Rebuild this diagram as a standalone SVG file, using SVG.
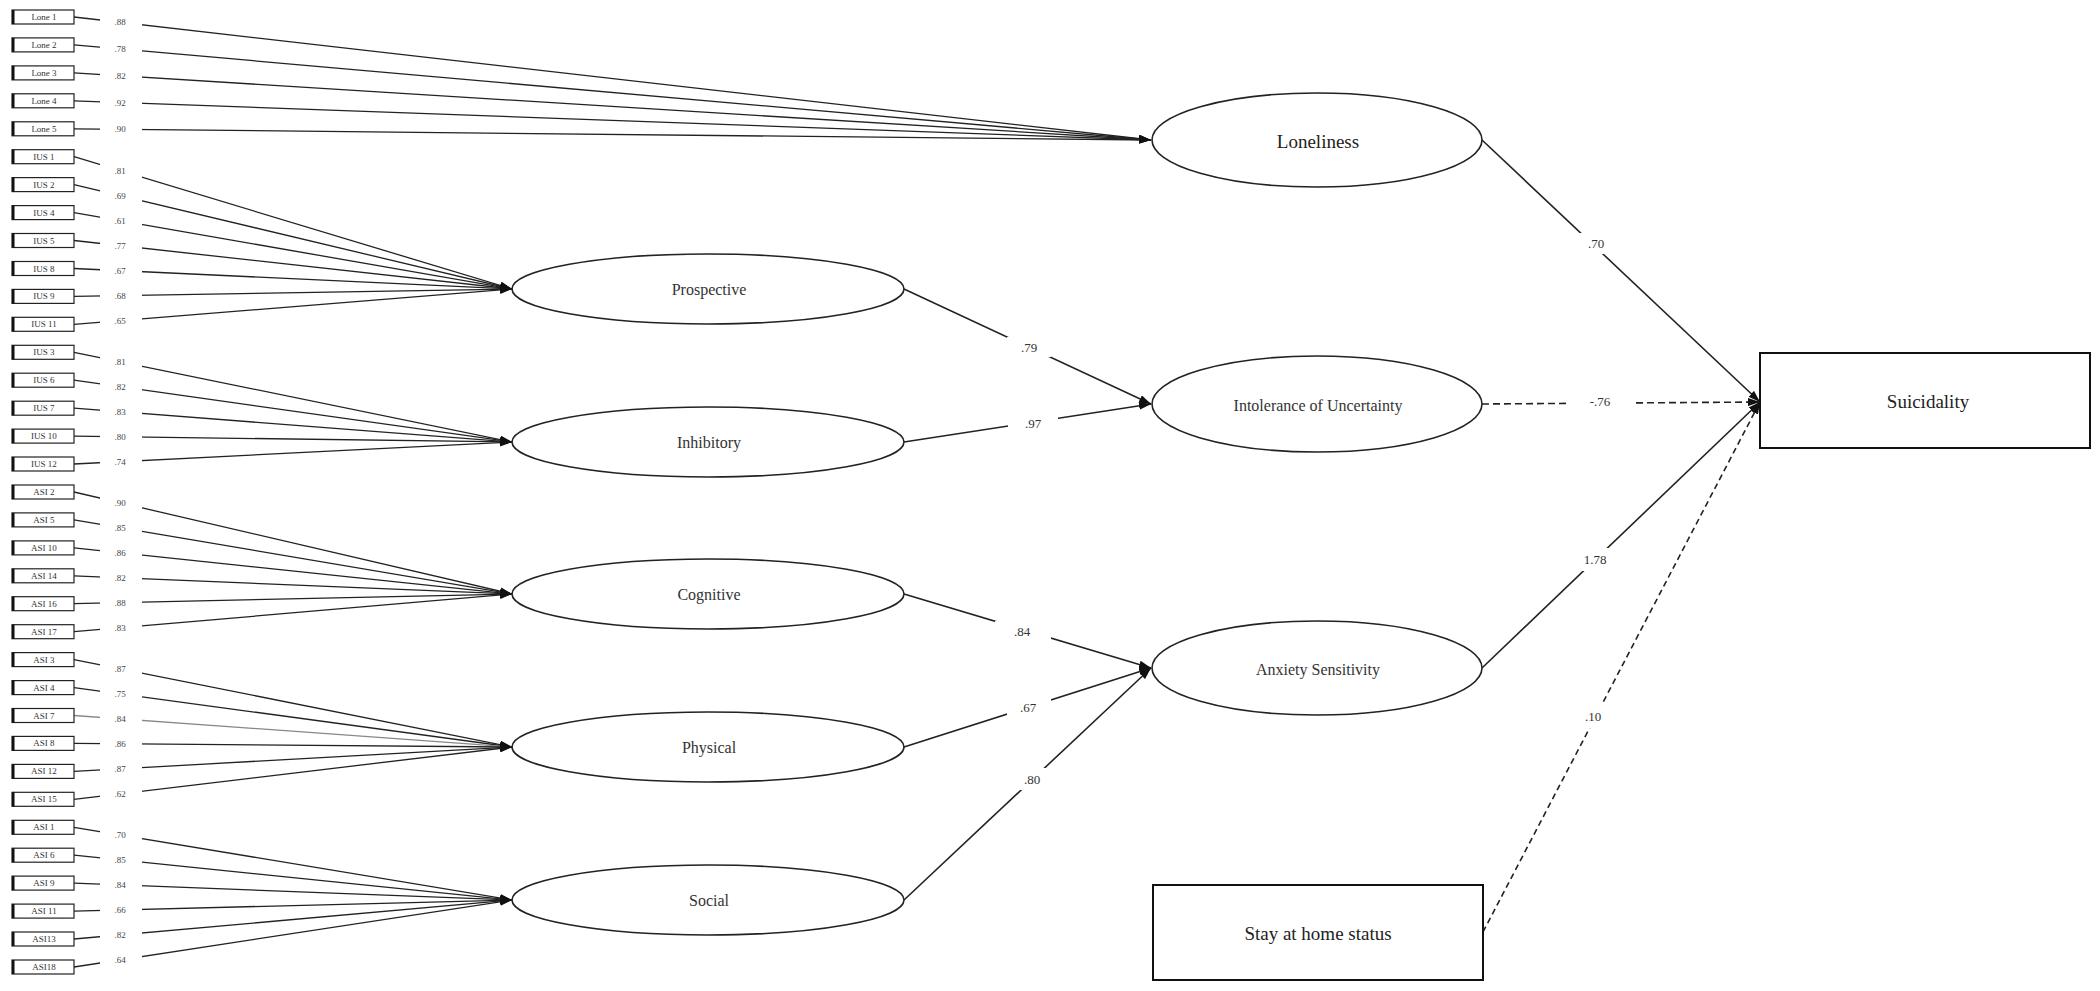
<svg xmlns="http://www.w3.org/2000/svg" width="2100" height="991" viewBox="0 0 2100 991">
<defs>
<marker id="ah" markerUnits="userSpaceOnUse" viewBox="0 0 12 8" refX="12" refY="4" markerWidth="12" markerHeight="8" orient="auto">
<path d="M0,0 L12,4 L0,8 z" fill="#111" stroke="none"/>
</marker>
<style>
.ind{stroke:#222;stroke-width:1.3;fill:none}
.path{stroke:#222;stroke-width:1.6;fill:none}
.dash{stroke:#222;stroke-width:1.6;fill:none;stroke-dasharray:7 4}
.dash2{stroke:#222;stroke-width:1.6;fill:none;stroke-dasharray:6 4}
.lbg{fill:#fff;stroke:none}
.ld{font-family:"Liberation Serif",serif;font-size:9px;fill:#444;text-anchor:middle;dominant-baseline:central}
.pl{font-family:"Liberation Serif",serif;font-size:13px;fill:#333;text-anchor:middle;dominant-baseline:central}
.box{fill:#fff;stroke:#222;stroke-width:1.2}
.bar{fill:#111}
.bt{font-family:"Liberation Serif",serif;font-size:9px;fill:#333;text-anchor:middle;dominant-baseline:central}
.ell{fill:#fff;stroke:#222;stroke-width:1.6}
.nt{font-family:"Liberation Serif",serif;font-size:16px;fill:#333;text-anchor:middle;dominant-baseline:central}
.big{font-family:"Liberation Serif",serif;font-size:19px;fill:#222;text-anchor:middle;dominant-baseline:central}
.rbox{fill:#fff;stroke:#111;stroke-width:2}
</style>
</defs>

<g id="connectors">
<line class="ind" x1="74" y1="17" x2="1151" y2="140" marker-end="url(#ah)"/>
<line class="ind" x1="74" y1="44.9" x2="1151" y2="140" marker-end="url(#ah)"/>
<line class="ind" x1="74" y1="72.9" x2="1151" y2="140" marker-end="url(#ah)"/>
<line class="ind" x1="74" y1="100.8" x2="1151" y2="140" marker-end="url(#ah)"/>
<line class="ind" x1="74" y1="128.8" x2="1151" y2="140" marker-end="url(#ah)"/>
<line class="ind" x1="74" y1="156.7" x2="512" y2="289" marker-end="url(#ah)"/>
<line class="ind" x1="74" y1="184.6" x2="512" y2="289" marker-end="url(#ah)"/>
<line class="ind" x1="74" y1="212.6" x2="512" y2="289" marker-end="url(#ah)"/>
<line class="ind" x1="74" y1="240.5" x2="512" y2="289" marker-end="url(#ah)"/>
<line class="ind" x1="74" y1="268.5" x2="512" y2="289" marker-end="url(#ah)"/>
<line class="ind" x1="74" y1="296.4" x2="512" y2="289" marker-end="url(#ah)"/>
<line class="ind" x1="74" y1="324.3" x2="512" y2="289" marker-end="url(#ah)"/>
<line class="ind" x1="74" y1="352.3" x2="512" y2="442" marker-end="url(#ah)"/>
<line class="ind" x1="74" y1="380.2" x2="512" y2="442" marker-end="url(#ah)"/>
<line class="ind" x1="74" y1="408.2" x2="512" y2="442" marker-end="url(#ah)"/>
<line class="ind" x1="74" y1="436.1" x2="512" y2="442" marker-end="url(#ah)"/>
<line class="ind" x1="74" y1="464" x2="512" y2="442" marker-end="url(#ah)"/>
<line class="ind" x1="74" y1="492" x2="512" y2="594" marker-end="url(#ah)"/>
<line class="ind" x1="74" y1="519.9" x2="512" y2="594" marker-end="url(#ah)"/>
<line class="ind" x1="74" y1="547.9" x2="512" y2="594" marker-end="url(#ah)"/>
<line class="ind" x1="74" y1="575.8" x2="512" y2="594" marker-end="url(#ah)"/>
<line class="ind" x1="74" y1="603.7" x2="512" y2="594" marker-end="url(#ah)"/>
<line class="ind" x1="74" y1="631.7" x2="512" y2="594" marker-end="url(#ah)"/>
<line class="ind" x1="74" y1="659.6" x2="512" y2="747" marker-end="url(#ah)"/>
<line class="ind" x1="74" y1="687.6" x2="512" y2="747" marker-end="url(#ah)"/>
<line class="ind" x1="74" y1="715.5" x2="512" y2="747" marker-end="url(#ah)" style="stroke:#888"/>
<line class="ind" x1="74" y1="743.4" x2="512" y2="747" marker-end="url(#ah)"/>
<line class="ind" x1="74" y1="771.4" x2="512" y2="747" marker-end="url(#ah)"/>
<line class="ind" x1="74" y1="799.3" x2="512" y2="747" marker-end="url(#ah)"/>
<line class="ind" x1="74" y1="827.3" x2="512" y2="900" marker-end="url(#ah)"/>
<line class="ind" x1="74" y1="855.2" x2="512" y2="900" marker-end="url(#ah)"/>
<line class="ind" x1="74" y1="883.1" x2="512" y2="900" marker-end="url(#ah)"/>
<line class="ind" x1="74" y1="911.1" x2="512" y2="900" marker-end="url(#ah)"/>
<line class="ind" x1="74" y1="939" x2="512" y2="900" marker-end="url(#ah)"/>
<line class="ind" x1="74" y1="967" x2="512" y2="900" marker-end="url(#ah)"/>

<line class="path" x1="904" y1="289" x2="1151" y2="404" marker-end="url(#ah)"/>
<line class="path" x1="904" y1="442" x2="1151" y2="404" marker-end="url(#ah)"/>
<line class="path" x1="904" y1="594" x2="1151" y2="668" marker-end="url(#ah)"/>
<line class="path" x1="904" y1="747" x2="1151" y2="668" marker-end="url(#ah)"/>
<line class="path" x1="904" y1="900" x2="1151" y2="668" marker-end="url(#ah)"/>
<line class="path" x1="1482" y1="140" x2="1760" y2="402" marker-end="url(#ah)"/>
<line class="dash" x1="1482" y1="404" x2="1760" y2="402" marker-end="url(#ah)"/>
<line class="path" x1="1482" y1="668" x2="1760" y2="402" marker-end="url(#ah)"/>
<line class="dash2" x1="1483" y1="932" x2="1760" y2="402" marker-end="url(#ah)"/>
</g>

<g id="connector-labels">
<rect class="lbg" x="100" y="14.4" width="42" height="16"/><text class="ld" x="120" y="22.4">.88</text>
<rect class="lbg" x="100" y="41.1" width="42" height="16"/><text class="ld" x="120" y="49.1">.78</text>
<rect class="lbg" x="100" y="67.8" width="42" height="16"/><text class="ld" x="120" y="75.8">.82</text>
<rect class="lbg" x="100" y="94.5" width="42" height="16"/><text class="ld" x="120" y="102.5">.92</text>
<rect class="lbg" x="100" y="121.3" width="42" height="16"/><text class="ld" x="120" y="129.3">.90</text>

<rect class="lbg" x="100" y="162.9" width="42" height="16"/><text class="ld" x="120" y="170.9">.81</text>
<rect class="lbg" x="100" y="187.8" width="42" height="16"/><text class="ld" x="120" y="195.8">.69</text>
<rect class="lbg" x="100" y="212.8" width="42" height="16"/><text class="ld" x="120" y="220.8">.61</text>
<rect class="lbg" x="100" y="237.7" width="42" height="16"/><text class="ld" x="120" y="245.7">.77</text>
<rect class="lbg" x="100" y="262.7" width="42" height="16"/><text class="ld" x="120" y="270.7">.67</text>
<rect class="lbg" x="100" y="287.6" width="42" height="16"/><text class="ld" x="120" y="295.6">.68</text>
<rect class="lbg" x="100" y="312.5" width="42" height="16"/><text class="ld" x="120" y="320.5">.65</text>

<rect class="lbg" x="100" y="353.9" width="42" height="16"/><text class="ld" x="120" y="361.9">.81</text>
<rect class="lbg" x="100" y="378.8" width="42" height="16"/><text class="ld" x="120" y="386.8">.82</text>
<rect class="lbg" x="100" y="403.8" width="42" height="16"/><text class="ld" x="120" y="411.8">.83</text>
<rect class="lbg" x="100" y="428.7" width="42" height="16"/><text class="ld" x="120" y="436.7">.80</text>
<rect class="lbg" x="100" y="453.6" width="42" height="16"/><text class="ld" x="120" y="461.6">.74</text>

<rect class="lbg" x="100" y="494.9" width="42" height="16"/><text class="ld" x="120" y="502.9">.90</text>
<rect class="lbg" x="100" y="519.9" width="42" height="16"/><text class="ld" x="120" y="527.9">.85</text>
<rect class="lbg" x="100" y="544.8" width="42" height="16"/><text class="ld" x="120" y="552.8">.86</text>
<rect class="lbg" x="100" y="569.8" width="42" height="16"/><text class="ld" x="120" y="577.8">.82</text>
<rect class="lbg" x="100" y="594.7" width="42" height="16"/><text class="ld" x="120" y="602.7">.88</text>
<rect class="lbg" x="100" y="619.7" width="42" height="16"/><text class="ld" x="120" y="627.7">.83</text>

<rect class="lbg" x="100" y="661" width="42" height="16"/><text class="ld" x="120" y="669">.87</text>
<rect class="lbg" x="100" y="686" width="42" height="16"/><text class="ld" x="120" y="694">.75</text>
<rect class="lbg" x="100" y="710.9" width="42" height="16"/><text class="ld" x="120" y="718.9">.84</text>
<rect class="lbg" x="100" y="735.8" width="42" height="16"/><text class="ld" x="120" y="743.8">.86</text>
<rect class="lbg" x="100" y="760.8" width="42" height="16"/><text class="ld" x="120" y="768.8">.87</text>
<rect class="lbg" x="100" y="785.7" width="42" height="16"/><text class="ld" x="120" y="793.7">.62</text>

<rect class="lbg" x="100" y="827.1" width="42" height="16"/><text class="ld" x="120" y="835.1">.70</text>
<rect class="lbg" x="100" y="852" width="42" height="16"/><text class="ld" x="120" y="860">.85</text>
<rect class="lbg" x="100" y="876.9" width="42" height="16"/><text class="ld" x="120" y="884.9">.84</text>
<rect class="lbg" x="100" y="901.9" width="42" height="16"/><text class="ld" x="120" y="909.9">.66</text>
<rect class="lbg" x="100" y="926.8" width="42" height="16"/><text class="ld" x="120" y="934.8">.82</text>
<rect class="lbg" x="100" y="951.8" width="42" height="16"/><text class="ld" x="120" y="959.8">.64</text>

<rect class="lbg" x="1007" y="337" width="44" height="20"/><text class="pl" x="1029" y="347">.79</text>
<rect class="lbg" x="1008" y="413" width="50" height="20"/><text class="pl" x="1033" y="423">.97</text>
<rect class="lbg" x="995" y="621" width="56" height="20"/><text class="pl" x="1022" y="631">.84</text>
<rect class="lbg" x="1007" y="697" width="44" height="20"/><text class="pl" x="1028" y="707">.67</text>
<rect class="lbg" x="1010" y="768" width="44" height="22"/><text class="pl" x="1032" y="779">.80</text>
<rect class="lbg" x="1572" y="233" width="48" height="21"/><text class="pl" x="1596" y="243">.70</text>
<rect class="lbg" x="1566" y="392" width="68" height="20"/><text class="pl" x="1600" y="401">-.76</text>
<rect class="lbg" x="1572" y="548" width="48" height="23"/><text class="pl" x="1595" y="559">1.78</text>
<rect class="lbg" x="1570" y="704" width="46" height="24"/><text class="pl" x="1593" y="716">.10</text>
</g>

<g id="indicators">
<g id="lone1"><rect class="box" x="12" y="10" width="62" height="14"/><rect class="bar" x="12" y="10" width="2.5" height="14"/><text class="bt" x="44" y="17">Lone 1</text></g>
<g id="lone2"><rect class="box" x="12" y="37.9" width="62" height="14"/><rect class="bar" x="12" y="37.9" width="2.5" height="14"/><text class="bt" x="44" y="44.9">Lone 2</text></g>
<g id="lone3"><rect class="box" x="12" y="65.9" width="62" height="14"/><rect class="bar" x="12" y="65.9" width="2.5" height="14"/><text class="bt" x="44" y="72.9">Lone 3</text></g>
<g id="lone4"><rect class="box" x="12" y="93.8" width="62" height="14"/><rect class="bar" x="12" y="93.8" width="2.5" height="14"/><text class="bt" x="44" y="100.8">Lone 4</text></g>
<g id="lone5"><rect class="box" x="12" y="121.8" width="62" height="14"/><rect class="bar" x="12" y="121.8" width="2.5" height="14"/><text class="bt" x="44" y="128.8">Lone 5</text></g>
<g id="ius1"><rect class="box" x="12" y="149.7" width="62" height="14"/><rect class="bar" x="12" y="149.7" width="2.5" height="14"/><text class="bt" x="44" y="156.7">IUS 1</text></g>
<g id="ius2"><rect class="box" x="12" y="177.6" width="62" height="14"/><rect class="bar" x="12" y="177.6" width="2.5" height="14"/><text class="bt" x="44" y="184.6">IUS 2</text></g>
<g id="ius4"><rect class="box" x="12" y="205.6" width="62" height="14"/><rect class="bar" x="12" y="205.6" width="2.5" height="14"/><text class="bt" x="44" y="212.6">IUS 4</text></g>
<g id="ius5"><rect class="box" x="12" y="233.5" width="62" height="14"/><rect class="bar" x="12" y="233.5" width="2.5" height="14"/><text class="bt" x="44" y="240.5">IUS 5</text></g>
<g id="ius8"><rect class="box" x="12" y="261.5" width="62" height="14"/><rect class="bar" x="12" y="261.5" width="2.5" height="14"/><text class="bt" x="44" y="268.5">IUS 8</text></g>
<g id="ius9"><rect class="box" x="12" y="289.4" width="62" height="14"/><rect class="bar" x="12" y="289.4" width="2.5" height="14"/><text class="bt" x="44" y="296.4">IUS 9</text></g>
<g id="ius11"><rect class="box" x="12" y="317.3" width="62" height="14"/><rect class="bar" x="12" y="317.3" width="2.5" height="14"/><text class="bt" x="44" y="324.3">IUS 11</text></g>
<g id="ius3"><rect class="box" x="12" y="345.3" width="62" height="14"/><rect class="bar" x="12" y="345.3" width="2.5" height="14"/><text class="bt" x="44" y="352.3">IUS 3</text></g>
<g id="ius6"><rect class="box" x="12" y="373.2" width="62" height="14"/><rect class="bar" x="12" y="373.2" width="2.5" height="14"/><text class="bt" x="44" y="380.2">IUS 6</text></g>
<g id="ius7"><rect class="box" x="12" y="401.2" width="62" height="14"/><rect class="bar" x="12" y="401.2" width="2.5" height="14"/><text class="bt" x="44" y="408.2">IUS 7</text></g>
<g id="ius10"><rect class="box" x="12" y="429.1" width="62" height="14"/><rect class="bar" x="12" y="429.1" width="2.5" height="14"/><text class="bt" x="44" y="436.1">IUS 10</text></g>
<g id="ius12"><rect class="box" x="12" y="457" width="62" height="14"/><rect class="bar" x="12" y="457" width="2.5" height="14"/><text class="bt" x="44" y="464">IUS 12</text></g>
<g id="asi2"><rect class="box" x="12" y="485" width="62" height="14"/><rect class="bar" x="12" y="485" width="2.5" height="14"/><text class="bt" x="44" y="492">ASI 2</text></g>
<g id="asi5"><rect class="box" x="12" y="512.9" width="62" height="14"/><rect class="bar" x="12" y="512.9" width="2.5" height="14"/><text class="bt" x="44" y="519.9">ASI 5</text></g>
<g id="asi10"><rect class="box" x="12" y="540.9" width="62" height="14"/><rect class="bar" x="12" y="540.9" width="2.5" height="14"/><text class="bt" x="44" y="547.9">ASI 10</text></g>
<g id="asi14"><rect class="box" x="12" y="568.8" width="62" height="14"/><rect class="bar" x="12" y="568.8" width="2.5" height="14"/><text class="bt" x="44" y="575.8">ASI 14</text></g>
<g id="asi16"><rect class="box" x="12" y="596.7" width="62" height="14"/><rect class="bar" x="12" y="596.7" width="2.5" height="14"/><text class="bt" x="44" y="603.7">ASI 16</text></g>
<g id="asi17"><rect class="box" x="12" y="624.7" width="62" height="14"/><rect class="bar" x="12" y="624.7" width="2.5" height="14"/><text class="bt" x="44" y="631.7">ASI 17</text></g>
<g id="asi3"><rect class="box" x="12" y="652.6" width="62" height="14"/><rect class="bar" x="12" y="652.6" width="2.5" height="14"/><text class="bt" x="44" y="659.6">ASI 3</text></g>
<g id="asi4"><rect class="box" x="12" y="680.6" width="62" height="14"/><rect class="bar" x="12" y="680.6" width="2.5" height="14"/><text class="bt" x="44" y="687.6">ASI 4</text></g>
<g id="asi7"><rect class="box" x="12" y="708.5" width="62" height="14"/><rect class="bar" x="12" y="708.5" width="2.5" height="14"/><text class="bt" x="44" y="715.5">ASI 7</text></g>
<g id="asi8"><rect class="box" x="12" y="736.4" width="62" height="14"/><rect class="bar" x="12" y="736.4" width="2.5" height="14"/><text class="bt" x="44" y="743.4">ASI 8</text></g>
<g id="asi12"><rect class="box" x="12" y="764.4" width="62" height="14"/><rect class="bar" x="12" y="764.4" width="2.5" height="14"/><text class="bt" x="44" y="771.4">ASI 12</text></g>
<g id="asi15"><rect class="box" x="12" y="792.3" width="62" height="14"/><rect class="bar" x="12" y="792.3" width="2.5" height="14"/><text class="bt" x="44" y="799.3">ASI 15</text></g>
<g id="asi1"><rect class="box" x="12" y="820.3" width="62" height="14"/><rect class="bar" x="12" y="820.3" width="2.5" height="14"/><text class="bt" x="44" y="827.3">ASI 1</text></g>
<g id="asi6"><rect class="box" x="12" y="848.2" width="62" height="14"/><rect class="bar" x="12" y="848.2" width="2.5" height="14"/><text class="bt" x="44" y="855.2">ASI 6</text></g>
<g id="asi9"><rect class="box" x="12" y="876.1" width="62" height="14"/><rect class="bar" x="12" y="876.1" width="2.5" height="14"/><text class="bt" x="44" y="883.1">ASI 9</text></g>
<g id="asi11"><rect class="box" x="12" y="904.1" width="62" height="14"/><rect class="bar" x="12" y="904.1" width="2.5" height="14"/><text class="bt" x="44" y="911.1">ASI 11</text></g>
<g id="asi13"><rect class="box" x="12" y="932" width="62" height="14"/><rect class="bar" x="12" y="932" width="2.5" height="14"/><text class="bt" x="44" y="939">ASI13</text></g>
<g id="asi18"><rect class="box" x="12" y="960" width="62" height="14"/><rect class="bar" x="12" y="960" width="2.5" height="14"/><text class="bt" x="44" y="967">ASI18</text></g>
</g>

<g id="prospective"><ellipse class="ell" cx="708" cy="289" rx="196" ry="35"/><text class="nt" x="709" y="289">Prospective</text></g>
<g id="inhibitory"><ellipse class="ell" cx="708" cy="442" rx="196" ry="35"/><text class="nt" x="709" y="442">Inhibitory</text></g>
<g id="cognitive"><ellipse class="ell" cx="708" cy="594" rx="196" ry="35"/><text class="nt" x="709" y="594">Cognitive</text></g>
<g id="physical"><ellipse class="ell" cx="708" cy="747" rx="196" ry="35"/><text class="nt" x="709" y="747">Physical</text></g>
<g id="social"><ellipse class="ell" cx="708" cy="900" rx="196" ry="35"/><text class="nt" x="709" y="900">Social</text></g>

<g id="loneliness"><ellipse class="ell" cx="1317" cy="140" rx="165" ry="47"/><text class="big" x="1318" y="141">Loneliness</text></g>
<g id="intolerance"><ellipse class="ell" cx="1317" cy="404" rx="165" ry="48"/><text class="nt" x="1318" y="405">Intolerance of Uncertainty</text></g>
<g id="anxiety"><ellipse class="ell" cx="1317" cy="668" rx="165" ry="47"/><text class="nt" x="1318" y="669">Anxiety  Sensitivity</text></g>

<g id="suicidality"><rect class="rbox" x="1760" y="353" width="330" height="95"/><text class="big" x="1928" y="401">Suicidality</text></g>
<g id="stay-at-home"><rect class="rbox" x="1153" y="885" width="330" height="95"/><text class="big" x="1318" y="933">Stay at home status</text></g>
</svg>
